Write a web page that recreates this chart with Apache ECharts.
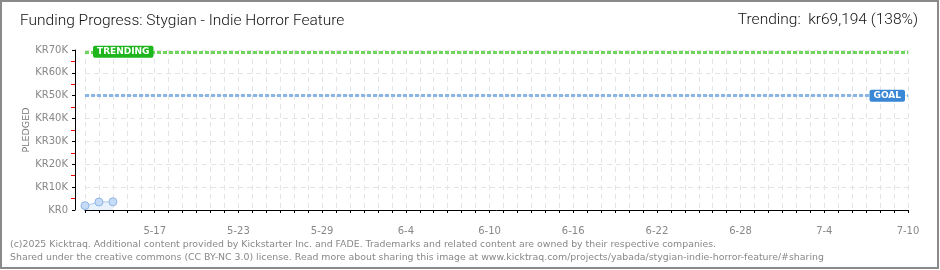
<!DOCTYPE html>
<html>
<head>
<meta charset="utf-8">
<script src="https://cdn.jsdelivr.net/npm/echarts@6/dist/echarts.min.js"></script>
<style>
  html, body { margin: 0; padding: 0; background: #fff; }
  #chart { width: 940px; height: 270px; }
</style>
</head>
<body>
<div id="chart"></div>
<script>
// campaign data
var campaignTitle = "Funding Progress: Stygian - Indie Horror Feature";
var startDay = new Date(2025, 4, 12);
var dayCount = 60;
var pledged = [1900, 3500, 3600];
var goalValue = 50000;
var trendingValue = 69194;
var trendingPct = 138;
var yTicks = [0, 10000, 20000, 30000, 40000, 50000, 60000, 70000];

var days = [];
for (var i = 0; i < dayCount; i++) {
  var d = new Date(startDay.getTime() + i * 86400000);
  days.push((d.getMonth() + 1) + "-" + d.getDate());
}

var chart = echarts.init(document.getElementById("chart"), null, { renderer: "canvas" });

var option = {
  backgroundColor: "#ffffff",
  animation: false,
  grid: { left: 85, right: 32, top: 50, bottom: 60 },
  graphic: [
    {
      type: "rect",
      shape: { x: 1, y: 1, width: 937, height: 267 },
      style: { fill: "none", stroke: "#8a8a8a", lineWidth: 2 },
    },
    {
      type: "text",
      left: 20,
      top: 13,
      style: {
        text: campaignTitle,
        font: "300 15.5px Roboto, 'Liberation Sans', sans-serif",
        fill: "#111",
      },
    },
    {
      type: "text",
      right: 22,
      top: 12,
      style: {
        text: "Trending:  kr" + trendingValue.toLocaleString("en-US") + " (" + trendingPct + "%)",
        font: "300 15.5px Roboto, 'Liberation Sans', sans-serif",
        fill: "#111",
      },
    },
    {
      type: "text",
      left: 10,
      top: 238,
      style: {
        text:
          "(c)2025 Kicktraq. Additional content provided by Kickstarter Inc. and FADE. Trademarks and related content are owned by their respective companies.\n" +
          "Shared under the creative commons (CC BY-NC 3.0) license. Read more about sharing this image at www.kicktraq.com/projects/yabada/stygian-indie-horror-feature/#sharing",
        font: "9.4px 'DejaVu Sans'",
        lineHeight: 13,
        fill: "#888",
      },
    },
  ],
  xAxis: {
    type: "category",
    data: days,
    boundaryGap: false,
    offset: 10,
    axisLine: { lineStyle: { color: "#000", width: 1 } },
    axisTick: { interval: 0, length: 3, lineStyle: { color: "#000" } },
    axisLabel: {
      interval: function (idx) { return idx % 6 === 5; },
      color: "#888",
      fontSize: 10,
      fontFamily: "DejaVu Sans",
      margin: 6,
    },
    splitLine: {
      show: true,
      interval: 0,
      lineStyle: { color: "#e4e4e4", type: [5, 4] },
    },
  },
  yAxis: {
    type: "value",
    min: yTicks[0],
    max: yTicks[yTicks.length - 1],
    interval: 10000,
    offset: 10,
    name: "PLEDGED",
    nameLocation: "middle",
    nameGap: 43,
    nameMoveOverlap: false,
    nameTextStyle: { color: "#777", fontSize: 9.5, fontFamily: "DejaVu Sans" },
    axisLine: { show: true, lineStyle: { color: "#000", width: 1 } },
    axisTick: { show: true, length: 3, lineStyle: { color: "#000" } },
    minorTick: { show: true, splitNumber: 2, length: 4, lineStyle: { color: "#ff0000", width: 1 } },
    axisLabel: {
      color: "#888",
      fontSize: 10,
      fontFamily: "DejaVu Sans",
      margin: 7,
      formatter: function (v) { return "KR" + (v / 1000) + (v ? "K" : ""); },
    },
    splitLine: { show: true, lineStyle: { color: "#e4e4e4", type: [5, 4] } },
  },
  series: [
    {
      name: "Pledged",
      type: "line",
      data: pledged,
      symbol: "circle",
      symbolSize: 8,
      itemStyle: { color: "#c6dcf6", borderColor: "#8fb6e6", borderWidth: 1 },
      lineStyle: { color: "#a9c9f0", width: 1 },
      areaStyle: { color: "#e9f2fc", opacity: 1 },
      markLine: {
        silent: true,
        symbol: "none",
        data: [
          {
            yAxis: trendingValue,
            lineStyle: { color: "#6fd65c", width: 3, type: [4, 2] },
            label: {
              show: true,
              position: "insideStart",
              distance: 8,
              formatter: "TRENDING",
              color: "#fff",
              backgroundColor: "#1db61d",
              borderRadius: 2,
              padding: [2, 4, 1, 4],
              fontSize: 9,
              fontWeight: "bold",
              fontFamily: "DejaVu Sans",
            },
          },
          {
            yAxis: goalValue,
            lineStyle: { color: "#8ab6e6", width: 3, type: [4, 2] },
            label: {
              show: true,
              position: "insideEnd",
              distance: 3,
              formatter: "GOAL",
              color: "#fff",
              backgroundColor: "#3a87d6",
              borderRadius: 2,
              padding: [2, 4, 1, 4],
              fontSize: 9,
              fontWeight: "bold",
              fontFamily: "DejaVu Sans",
            },
          },
        ],
      },
    },
  ],
};

chart.setOption(option);
</script>
</body>
</html>
